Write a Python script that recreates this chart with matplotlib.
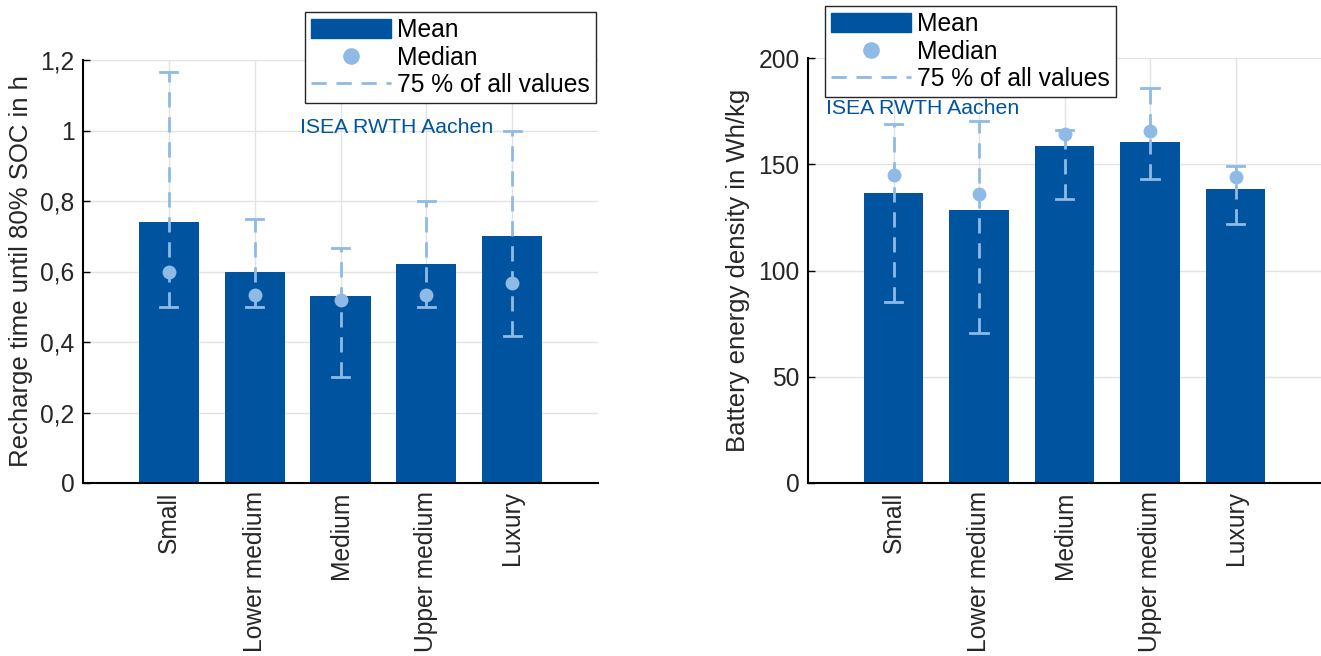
import matplotlib
matplotlib.use("Agg")
import matplotlib.pyplot as plt
from matplotlib.lines import Line2D
from matplotlib.patches import Patch
import numpy as np

categories = ["Small", "Lower medium", "Medium", "Upper medium", "Luxury"]

# Left panel: recharge time until 80% SOC (h)
recharge_mean = [0.74, 0.60, 0.53, 0.62, 0.70]
recharge_median = [0.60, 0.533, 0.52, 0.533, 0.567]
recharge_low = [0.50, 0.50, 0.30, 0.50, 0.417]
recharge_high = [1.167, 0.75, 0.667, 0.80, 1.00]
recharge_ticks = [0, 0.2, 0.4, 0.6, 0.8, 1.0, 1.2]
recharge_ticklabels = ["0", "0,2", "0,4", "0,6", "0,8", "1", "1,2"]

# Right panel: battery energy density (Wh/kg)
density_mean = [136.5, 128.5, 158.7, 160.3, 138.2]
density_median = [144.8, 135.9, 164.1, 165.8, 144.0]
density_low = [85.0, 70.8, 133.8, 143.0, 121.9]
density_high = [169.0, 170.5, 166.0, 186.0, 149.0]
density_ticks = [0, 50, 100, 150, 200]
density_ticklabels = ["0", "50", "100", "150", "200"]

BAR = "#00539F"
LIGHT = "#8EBAE5"
plt.rcParams["font.family"] = ["Liberation Sans", "DejaVu Sans"]
FS = 17.7
FS_LABEL = 18.5

fig = plt.figure(figsize=(13.21, 6.56), dpi=100)
ax1 = fig.add_axes([83/1321, 1-483/656, (598-83)/1321, (483-60)/656])
ax2 = fig.add_axes([808/1321, 1-483/656, (1321-808)/1321, (483-58)/656])

def draw(ax, mean, med, lo, hi, ticks, ticklabels, ymax, ylabel, leg_xy, txt_xy):
    x = np.arange(1, len(categories) + 1)
    ax.set_axisbelow(True)
    ax.grid(True, color="#e3e3e3", linewidth=1)
    ax.bar(x, mean, width=0.7, color=BAR, zorder=2)
    for xi, l, h in zip(x, lo, hi):
        ax.plot([xi, xi], [l, h], color=LIGHT, lw=2, dashes=(5.5, 3.5), zorder=3)
        ax.plot([xi - 0.1, xi + 0.1], [l, l], color=LIGHT, lw=2, zorder=3)
        ax.plot([xi - 0.1, xi + 0.1], [h, h], color=LIGHT, lw=2, zorder=3)
    ax.plot(x, med, "o", color=LIGHT, markersize=10, zorder=4, markeredgewidth=0)
    ax.set_xlim(0, 6)
    ax.set_ylim(0, ymax)
    ax.set_xticks(x)
    ax.set_xticklabels(categories, rotation=90, fontsize=FS, color="#262626")
    ax.set_yticks(ticks)
    ax.set_yticklabels(ticklabels, fontsize=FS, color="#262626")
    ax.tick_params(direction="in", length=5, width=1, pad=6)
    for s in ["top", "right"]:
        ax.spines[s].set_visible(False)
    for s in ["left", "bottom"]:
        ax.spines[s].set_linewidth(1.5)
    ax.set_ylabel(ylabel, fontsize=FS_LABEL, color="#262626")
    handles = [Patch(facecolor=BAR, edgecolor=BAR),
               Line2D([], [], marker="o", linestyle="none", color=LIGHT, markersize=12, markeredgewidth=0),
               Line2D([], [], color=LIGHT, lw=2, dashes=(5.5, 3.5))]
    leg = fig.legend(handles, ["Mean", "Median", "75 % of all values"],
                     loc="upper left", bbox_to_anchor=leg_xy, bbox_transform=fig.transFigure,
                     fontsize=FS, frameon=True, fancybox=False, edgecolor="#262626",
                     framealpha=1, handlelength=3.25, handleheight=0.8,
                     handletextpad=0.25, labelspacing=0.14, borderpad=0.25, borderaxespad=0)
    leg.get_frame().set_linewidth(1)
    fig.text(txt_xy[0], txt_xy[1], "ISEA RWTH Aachen", color="#00549F",
             fontsize=15.3, ha="left", va="baseline")

draw(ax1, recharge_mean, recharge_median, recharge_low, recharge_high,
     recharge_ticks, recharge_ticklabels, 1.2, "Recharge time until 80% SOC in h",
     (305/1321, 1-12/656), (300/1321, 1-133/656))
draw(ax2, density_mean, density_median, density_low, density_high,
     density_ticks, density_ticklabels, 200, "Battery energy density in Wh/kg",
     (825/1321, 1-6/656), (826/1321, 1-114/656))

ax1.yaxis.set_label_coords(-0.098, 0.5)
ax2.yaxis.set_label_coords(-0.113, 0.5)

fig.savefig("out.png", dpi=100)
